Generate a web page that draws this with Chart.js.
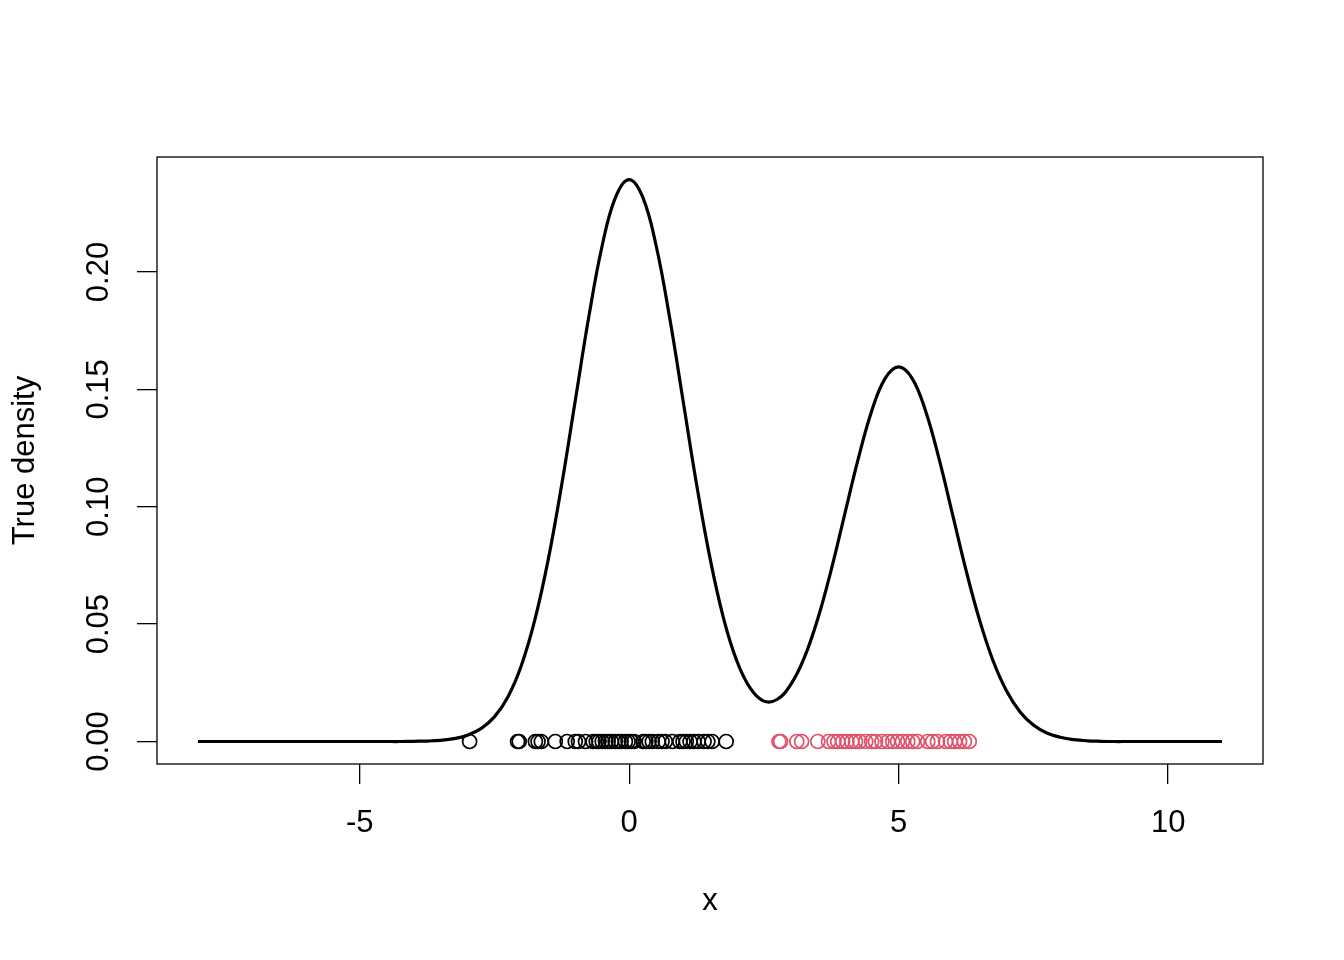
<!DOCTYPE html>
<html lang="en">
<head>
    <meta charset="UTF-8">
    <title>True density</title>
    <script src="https://cdn.jsdelivr.net/npm/chart.js@4.4.1/dist/chart.umd.min.js"></script>
    <style>
        body { margin: 0; background: #fff; }
        #wrap { width: 1344px; height: 960px; }
    </style>
</head>
<body>
<div id="wrap"><canvas id="densityChart"></canvas></div>
<script>
    // density curve
    const curveX = [-8, -7.75, -7.5, -7.25, -7, -6.75, -6.5, -6.25, -6, -5.75, -5.5, -5.25, -5, -4.75, -4.5, -4.25,
        -4, -3.75, -3.5, -3.25, -3, -2.75, -2.5, -2.25, -2, -1.75, -1.5, -1.25, -1, -0.75, -0.5, -0.25,
        0, 0.25, 0.5, 0.75, 1, 1.25, 1.5, 1.75, 2, 2.25, 2.5, 2.75, 3, 3.25, 3.5, 3.75,
        4, 4.25, 4.5, 4.75, 5, 5.25, 5.5, 5.75, 6, 6.25, 6.5, 6.75, 7, 7.25, 7.5, 7.75,
        8, 8.25, 8.5, 8.75, 9, 9.25, 9.5, 9.75, 10, 10.25, 10.5, 10.75, 11];
    const curveY = [0, 0, 0, 0, 0, 0, 0, 0, 0, 0, 0, 0, 0, 0, 0, 0,
        0.0001, 0.0002, 0.0005, 0.0012, 0.0027, 0.0055, 0.0105, 0.0190, 0.0324, 0.0518, 0.0777, 0.1096, 0.1452, 0.1807, 0.2113, 0.2320,
        0.2394, 0.2320, 0.2113, 0.1807, 0.1453, 0.1097, 0.0781, 0.0526, 0.0342, 0.0226, 0.0172, 0.0180, 0.0243, 0.0357, 0.0523, 0.0732,
        0.0969, 0.1204, 0.1408, 0.1547, 0.1596, 0.1547, 0.1408, 0.1204, 0.0968, 0.0730, 0.0518, 0.0345, 0.0216, 0.0127, 0.0070, 0.0036,
        0.0018, 0.0008, 0.0003, 0.0001, 0, 0, 0, 0, 0, 0, 0, 0, 0];

    // sample points along the bottom (y = 0)
    const groupA = [-2.96, -2.07, -2.04, -1.74, -1.69, -1.63, -1.37, -1.15, -1.00, -0.94, -0.81, -0.67, -0.61, -0.56,
        -0.50, -0.44, -0.39, -0.33, -0.26, -0.20, -0.15, -0.07, -0.02, 0.04, 0.09, 0.26, 0.31, 0.37, 0.43,
        0.54, 0.61, 0.67, 0.80, 0.94, 1.00, 1.06, 1.13, 1.20, 1.28, 1.39, 1.46, 1.54, 1.80];
    const groupB = [2.78, 2.81, 3.11, 3.20, 3.50, 3.70, 3.80, 3.87, 3.96, 4.04, 4.13, 4.20, 4.28, 4.39, 4.50,
        4.57, 4.69, 4.80, 4.89, 4.98, 5.07, 5.17, 5.26, 5.35, 5.54, 5.63, 5.72, 5.87, 5.96, 6.04, 6.13, 6.22, 6.31];

    const xTicks = [-5, 0, 5, 10];
    const yTicks = [0, 0.05, 0.10, 0.15, 0.20];

    const font = {family: "'Liberation Sans', Arial, sans-serif", size: 31};

    const boxPlugin = {
        id: 'box',
        afterDraw(chart) {
            const a = chart.chartArea;
            const ctx = chart.ctx;
            ctx.save();
            ctx.strokeStyle = '#000';
            ctx.lineWidth = 1.3;
            ctx.strokeRect(a.left, a.top, a.right - a.left, a.bottom - a.top);
            ctx.restore();
        }
    };

    new Chart(document.getElementById('densityChart'), {
        type: 'scatter',
        data: {
            datasets: [{
                type: 'line',
                data: curveX.map((x, i) => ({x: x, y: curveY[i]})),
                borderColor: '#000',
                borderWidth: 3.2,
                pointRadius: 0,
                tension: 0.4,
                fill: false
            }, {
                data: groupA.map(x => ({x: x, y: 0})),
                borderColor: '#000',
                backgroundColor: 'rgba(0,0,0,0)',
                borderWidth: 1.7,
                pointRadius: 7
            }, {
                data: groupB.map(x => ({x: x, y: 0})),
                borderColor: '#DF536B',
                backgroundColor: 'rgba(0,0,0,0)',
                borderWidth: 1.7,
                pointRadius: 7
            }]
        },
        options: {
            responsive: true,
            maintainAspectRatio: false,
            animation: false,
            layout: {padding: {top: 157, right: 81, left: 0, bottom: 0}},
            plugins: {legend: {display: false}, tooltip: {enabled: false}},
            scales: {
                x: {
                    type: 'linear',
                    min: -8.76,
                    max: 11.76,
                    afterBuildTicks: s => { s.ticks = xTicks.map(v => ({value: v})); },
                    afterFit: s => { s.height = 196; },
                    grid: {display: true, drawOnChartArea: false, drawTicks: true, tickLength: 20, color: '#000', lineWidth: 1.3},
                    border: {display: false},
                    ticks: {color: '#000', font: font, padding: 21, maxRotation: 0, callback: v => String(v)},
                    title: {display: true, text: 'x', color: '#000', font: font, padding: {top: 0, bottom: 40}}
                },
                y: {
                    type: 'linear',
                    min: -0.00958,
                    max: 0.2490,
                    afterBuildTicks: s => { s.ticks = yTicks.map(v => ({value: v})); },
                    afterFit: s => { s.width = 157; },
                    grid: {display: true, drawOnChartArea: false, drawTicks: true, tickLength: 20, color: '#000', lineWidth: 1.3},
                    border: {display: false},
                    ticks: {color: '#000', font: font, padding: 7, minRotation: 90, maxRotation: 90, crossAlign: 'center',
                        callback: v => v.toFixed(2)},
                    title: {display: true, text: 'True density', color: '#000', font: font, padding: {top: 7, bottom: 0}}
                }
            }
        },
        plugins: [boxPlugin]
    });
</script>
</body>
</html>
